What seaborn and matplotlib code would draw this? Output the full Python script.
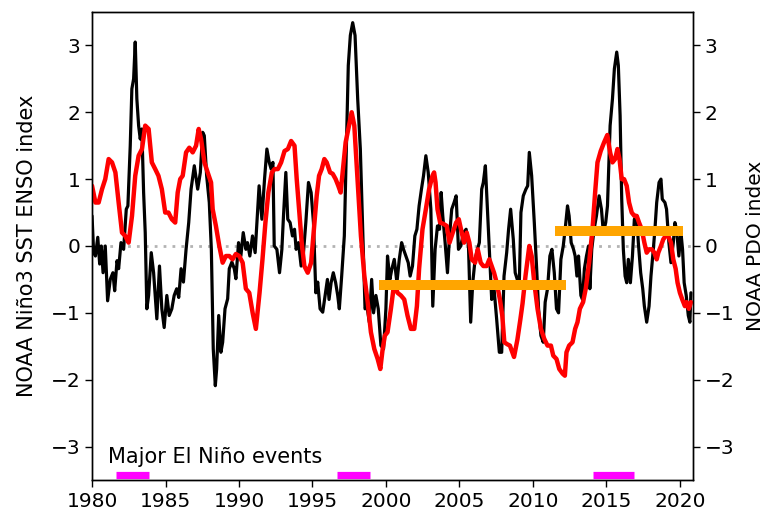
import numpy as np
import pandas as pd
import matplotlib
matplotlib.use("Agg")
import matplotlib.pyplot as plt
import seaborn as sns

# Monthly-ish NOAA Nino3 SST anomaly index (deg C)
nino3_year = [
    1980.00, 1980.11, 1980.23, 1980.39, 1980.52, 1980.63, 1980.75, 1980.90, 1981.06, 1981.24,
    1981.42, 1981.54, 1981.70, 1981.81, 1981.97, 1982.15, 1982.33, 1982.44, 1982.60, 1982.71,
    1982.83, 1982.94, 1983.05, 1983.17, 1983.28, 1983.39, 1983.51, 1983.62, 1983.73, 1983.85,
    1984.03, 1984.19, 1984.41, 1984.59, 1984.75, 1984.91, 1985.09, 1985.25, 1985.43, 1985.59,
    1985.76, 1985.90, 1986.06, 1986.22, 1986.40, 1986.58, 1986.74, 1986.96, 1987.19, 1987.37,
    1987.53, 1987.64, 1987.80, 1987.98, 1988.12, 1988.25, 1988.39, 1988.48, 1988.62, 1988.77,
    1988.89, 1989.05, 1989.23, 1989.34, 1989.52, 1989.68, 1989.79, 1989.97, 1990.13, 1990.29,
    1990.47, 1990.58, 1990.74, 1990.92, 1991.10, 1991.26, 1991.37, 1991.56, 1991.74, 1991.90,
    1992.06, 1992.19, 1992.31, 1992.40, 1992.58, 1992.76, 1992.92, 1993.03, 1993.19, 1993.32,
    1993.48, 1993.64, 1993.78, 1993.89, 1994.05, 1994.23, 1994.39, 1994.55, 1994.73, 1994.91,
    1995.07, 1995.23, 1995.36, 1995.52, 1995.70, 1995.86, 1996.02, 1996.13, 1996.27, 1996.42,
    1996.58, 1996.72, 1996.83, 1996.99, 1997.17, 1997.31, 1997.44, 1997.58, 1997.74, 1997.90,
    1998.08, 1998.26, 1998.42, 1998.58, 1998.71, 1998.87, 1999.03, 1999.16, 1999.32, 1999.48,
    1999.66, 1999.84, 2000.00, 2000.11, 2000.27, 2000.41, 2000.57, 2000.75, 2000.91, 2001.07,
    2001.20, 2001.36, 2001.52, 2001.65, 2001.81, 2001.97, 2002.11, 2002.26, 2002.42, 2002.56,
    2002.72, 2002.88, 2003.06, 2003.19, 2003.35, 2003.51, 2003.65, 2003.76, 2003.87, 2004.03,
    2004.19, 2004.33, 2004.48, 2004.64, 2004.78, 2004.94, 2005.10, 2005.28, 2005.46, 2005.62,
    2005.77, 2005.91, 2006.07, 2006.23, 2006.36, 2006.52, 2006.63, 2006.77, 2006.91, 2007.04,
    2007.20, 2007.36, 2007.54, 2007.72, 2007.88, 2008.04, 2008.22, 2008.35, 2008.49, 2008.67,
    2008.80, 2008.94, 2009.08, 2009.19, 2009.35, 2009.53, 2009.65, 2009.76, 2009.92, 2010.10,
    2010.26, 2010.39, 2010.55, 2010.71, 2010.84, 2011.00, 2011.16, 2011.30, 2011.46, 2011.61,
    2011.75, 2011.91, 2012.07, 2012.20, 2012.36, 2012.47, 2012.61, 2012.77, 2012.88, 2013.00,
    2013.11, 2013.27, 2013.38, 2013.51, 2013.65, 2013.79, 2013.88, 2014.01, 2014.17, 2014.33,
    2014.51, 2014.67, 2014.80, 2014.96, 2015.08, 2015.26, 2015.42, 2015.55, 2015.71, 2015.82,
    2015.94, 2016.05, 2016.16, 2016.28, 2016.39, 2016.50, 2016.64, 2016.78, 2016.91, 2017.07,
    2017.18, 2017.34, 2017.48, 2017.59, 2017.75, 2017.91, 2018.04, 2018.20, 2018.31, 2018.43,
    2018.59, 2018.72, 2018.81, 2018.99, 2019.10, 2019.26, 2019.40, 2019.56, 2019.67, 2019.78,
    2019.94, 2020.08, 2020.19, 2020.30, 2020.44, 2020.58, 2020.69, 2020.76,
]
nino3_value = [
    0.45, -0.10, -0.15, 0.13, -0.27, 0.00, -0.40, 0.00, -0.82, -0.50,
    -0.40, -0.67, -0.22, -0.34, 0.05, -0.05, 0.55, 0.60, 1.50, 2.35,
    2.50, 3.05, 2.20, 1.80, 1.60, 1.75, 0.80, 0.20, -0.94, -0.74,
    -0.10, -0.40, -1.09, -0.30, -0.94, -1.22, -0.74, -1.04, -0.94, -0.74,
    -0.64, -0.77, -0.34, -0.54, -0.05, 0.35, 0.85, 1.20, 0.85, 1.10,
    1.70, 1.65, 1.05, 0.65, -0.05, -1.54, -2.09, -1.84, -1.04, -1.59,
    -1.44, -0.94, -0.79, -0.34, -0.24, -0.34, -0.49, 0.05, -0.15, 0.20,
    -0.05, 0.05, -0.15, 0.15, -0.10, 0.50, 0.90, 0.40, 1.00, 1.45,
    1.25, 1.15, 1.25, 0.00, -0.05, -0.40, -0.05, 0.45, 1.10, 0.40,
    0.35, 0.15, 0.25, -0.05, 0.05, -0.30, -0.10, 0.35, 0.95, 0.80,
    0.35, -0.70, -0.54, -0.94, -0.99, -0.74, -0.50, -0.80, -0.55, -0.40,
    -0.55, -0.74, -0.94, -0.45, 0.15, 1.45, 2.70, 3.15, 3.34, 3.15,
    2.20, 1.45, 0.25, -0.94, -0.90, -1.14, -0.50, -1.00, -0.74, -0.94,
    -1.49, -1.54, -0.94, -0.15, -0.50, -0.34, -0.20, -0.55, -0.20, 0.05,
    -0.05, -0.15, -0.25, -0.45, -0.30, 0.15, 0.25, 0.60, 0.85, 1.05,
    1.35, 1.10, 0.55, -0.90, -0.05, 0.30, 0.25, 0.80, 0.45, 0.05,
    -0.40, 0.15, 0.55, 0.65, 0.75, -0.05, 0.00, 0.20, 0.25, 0.00,
    -1.14, -0.55, -0.20, -0.05, 0.05, 0.85, 0.95, 1.20, 0.55, -0.05,
    -0.80, -0.64, -1.10, -1.59, -1.59, -0.45, -0.10, 0.25, 0.55, 0.10,
    -0.40, -0.50, -0.55, 0.50, 0.75, 0.85, 0.90, 1.40, 1.05, 0.35,
    -0.34, -0.94, -1.34, -1.44, -0.84, -0.64, -0.15, -0.05, -0.40, -0.94,
    -1.00, -0.20, 0.00, 0.25, 0.60, 0.45, 0.05, -0.05, -0.15, -0.45,
    -0.15, -0.74, -0.80, -0.34, -0.15, 0.00, -0.64, -0.05, 0.25, 0.45,
    0.75, 0.55, 0.20, 0.35, 0.60, 1.80, 2.20, 2.65, 2.90, 2.70,
    1.95, 0.70, -0.05, -0.45, -0.55, -0.20, -0.55, -0.15, 0.40, 0.45,
    0.05, -0.40, -0.64, -0.90, -1.14, -0.90, -0.45, -0.05, 0.25, 0.65,
    0.95, 1.00, 0.70, 0.65, 0.55, 0.05, -0.25, 0.05, 0.35, 0.25,
    -0.15, 0.20, -0.05, -0.55, -0.74, -1.04, -1.14, -0.70,
]

# Smoothed NOAA Pacific Decadal Oscillation index
pdo_year = [
    1980.00, 1980.23, 1980.45, 1980.68, 1980.90, 1981.13, 1981.36, 1981.59, 1981.81, 1982.04,
    1982.26, 1982.49, 1982.72, 1982.94, 1983.17, 1983.40, 1983.62, 1983.85, 1984.07, 1984.30,
    1984.52, 1984.75, 1984.98, 1985.20, 1985.43, 1985.66, 1985.83, 1986.00, 1986.17, 1986.40,
    1986.62, 1986.85, 1987.08, 1987.26, 1987.42, 1987.65, 1987.87, 1988.10, 1988.21, 1988.43,
    1988.66, 1988.89, 1989.11, 1989.34, 1989.56, 1989.79, 1990.02, 1990.25, 1990.47, 1990.70,
    1990.93, 1991.15, 1991.40, 1991.60, 1991.80, 1992.00, 1992.24, 1992.42, 1992.65, 1992.87,
    1993.10, 1993.33, 1993.55, 1993.78, 1993.93, 1994.09, 1994.27, 1994.45, 1994.68, 1994.91,
    1995.10, 1995.29, 1995.45, 1995.63, 1995.81, 1995.97, 1996.20, 1996.38, 1996.58, 1996.76,
    1996.92, 1997.10, 1997.26, 1997.44, 1997.67, 1997.85, 1998.08, 1998.30, 1998.53, 1998.76,
    1998.98, 1999.21, 1999.44, 1999.62, 1999.78, 1999.93, 2000.11, 2000.34, 2000.57, 2000.79,
    2001.02, 2001.25, 2001.47, 2001.70, 2001.93, 2002.11, 2002.26, 2002.49, 2002.72, 2002.94,
    2003.17, 2003.28, 2003.38, 2003.51, 2003.69, 2003.92, 2004.14, 2004.33, 2004.55, 2004.78,
    2004.96, 2005.16, 2005.32, 2005.50, 2005.68, 2005.84, 2006.07, 2006.25, 2006.45, 2006.63,
    2006.86, 2007.04, 2007.20, 2007.36, 2007.54, 2007.76, 2007.92, 2008.06, 2008.26, 2008.44,
    2008.72, 2008.95, 2009.15, 2009.30, 2009.50, 2009.76, 2009.92, 2010.10, 2010.32, 2010.55,
    2010.78, 2011.00, 2011.23, 2011.39, 2011.61, 2011.80, 2012.03, 2012.18, 2012.29, 2012.47,
    2012.70, 2012.88, 2013.04, 2013.20, 2013.42, 2013.60, 2013.83, 2014.06, 2014.24, 2014.40,
    2014.62, 2014.85, 2015.07, 2015.26, 2015.42, 2015.60, 2015.76, 2015.90, 2016.05, 2016.21,
    2016.39, 2016.55, 2016.73, 2016.91, 2017.07, 2017.23, 2017.41, 2017.59, 2017.75, 2017.91,
    2018.09, 2018.27, 2018.43, 2018.54, 2018.72, 2018.88, 2019.04, 2019.22, 2019.40, 2019.56,
    2019.72, 2019.85, 2020.01, 2020.17, 2020.35, 2020.46, 2020.62, 2020.76,
]
pdo_value = [
    0.90, 0.65, 0.65, 0.85, 1.00, 1.30, 1.25, 1.10, 0.65, 0.20,
    0.15, 0.05, 0.45, 1.05, 1.35, 1.45, 1.80, 1.75, 1.25, 1.15,
    1.05, 0.85, 0.50, 0.50, 0.40, 0.35, 0.80, 1.00, 1.05, 1.40,
    1.47, 1.40, 1.50, 1.75, 1.60, 1.25, 1.10, 0.95, 0.55, 0.30,
    0.00, -0.25, -0.15, -0.15, -0.20, -0.12, -0.15, -0.25, -0.64, -0.70,
    -1.00, -1.24, -0.70, -0.20, 0.35, 0.80, 1.10, 1.15, 1.15, 1.25,
    1.42, 1.45, 1.57, 1.50, 1.00, 0.55, 0.05, -0.30, -0.40, -0.25,
    0.25, 0.75, 1.05, 1.15, 1.30, 1.25, 1.10, 1.08, 1.00, 0.90,
    0.80, 1.20, 1.55, 1.75, 2.00, 1.80, 0.95, 0.15, -0.44, -0.84,
    -1.29, -1.54, -1.69, -1.84, -1.54, -1.34, -1.29, -0.94, -0.55, -0.70,
    -0.74, -0.80, -1.04, -1.24, -1.24, -0.90, -0.34, 0.25, 0.55, 0.85,
    1.05, 1.10, 0.95, 0.55, 0.35, 0.33, 0.30, 0.05, 0.20, 0.35,
    0.40, 0.20, 0.05, 0.20, 0.05, -0.20, -0.25, -0.05, -0.25, -0.30,
    -0.30, -0.20, -0.30, -0.40, -0.55, -0.80, -1.04, -1.44, -1.47, -1.49,
    -1.66, -1.40, -1.10, -0.86, -0.45, 0.00, -0.15, -0.55, -0.94, -1.24,
    -1.39, -1.49, -1.49, -1.64, -1.69, -1.84, -1.91, -1.94, -1.59, -1.49,
    -1.44, -1.24, -1.14, -0.94, -0.84, -0.64, -0.25, 0.25, 0.80, 1.25,
    1.42, 1.55, 1.66, 1.40, 1.25, 1.30, 1.45, 1.30, 1.00, 1.00,
    0.90, 0.65, 0.50, 0.45, 0.45, 0.35, 0.25, 0.05, -0.10, -0.05,
    -0.05, -0.10, -0.20, -0.10, 0.00, 0.10, 0.15, 0.15, 0.05, -0.20,
    -0.34, -0.55, -0.70, -0.80, -0.90, -0.84, -0.94, -0.84,
]

# PDO regime means (start year, end year, mean)
regime_start = [1999.55, 2011.5]
regime_end = [2012.25, 2020.2]
regime_mean = [-0.58, 0.22]

# Major El Nino events (start, end)
nino_start = [1981.6, 1996.65, 2014.1]
nino_end = [1983.85, 1998.9, 2016.9]
nino_level = -3.43

year_ticks = [1980, 1985, 1990, 1995, 2000, 2005, 2010, 2015, 2020]
value_ticks = [-3, -2, -1, 0, 1, 2, 3]

sns.set_style("ticks")
plt.rcParams["font.family"] = ["DejaVu Sans"]
plt.rcParams.update({
    "text.color": "black",
    "axes.labelcolor": "black",
    "xtick.color": "black",
    "ytick.color": "black",
    "axes.edgecolor": "black",
})

nino_df = pd.DataFrame({"year": nino3_year, "index": nino3_value})
pdo_df = pd.DataFrame({"year": pdo_year, "index": pdo_value})

fig = plt.figure(figsize=(7.67, 5.16), dpi=100)
ax = fig.add_axes([0.12, 0.0698, 0.7835, 0.907])
ax2 = ax.twinx()

ax.axhline(0, color="#b3b3b3", linestyle=(0, (1, 2.2)), linewidth=2.0, zorder=1)

sns.lineplot(data=nino_df, x="year", y="index", ax=ax, color="black",
             linewidth=2.3, estimator=None, sort=False, zorder=2)
sns.lineplot(data=pdo_df, x="year", y="index", ax=ax2, color="red",
             linewidth=3.2, estimator=None, sort=False, zorder=2)

ax2.hlines(regime_mean, regime_start, regime_end, color="orange",
           linewidth=7.2, zorder=3)
ax.hlines([nino_level] * len(nino_start), nino_start, nino_end,
          color="magenta", linewidth=5.2, zorder=3)
ax.text(1981.1, -3.25, "Major El Ni\u00f1o events", fontsize=15,
        ha="left", va="baseline", color="black")

for a in (ax, ax2):
    a.set_ylim(-3.5, 3.5)
    a.set_yticks(value_ticks)
    a.tick_params(axis="both", labelsize=14.5, length=5, width=1.0,
                  direction="out", color="black", labelcolor="black")
    for s in a.spines.values():
        s.set_visible(True)
        s.set_linewidth(1.0)
        s.set_color("black")

ax.set_xlim(1980, 2020.9)
ax.set_xticks(year_ticks)
ax.set_xlabel("")
ax.set_ylabel("NOAA Ni\u00f1o3 SST ENSO index", fontsize=15, color="black",
              labelpad=10)
ax2.set_ylabel("NOAA PDO index", fontsize=14.5, color="black", labelpad=8)

fig.savefig("out.png", dpi=100)
